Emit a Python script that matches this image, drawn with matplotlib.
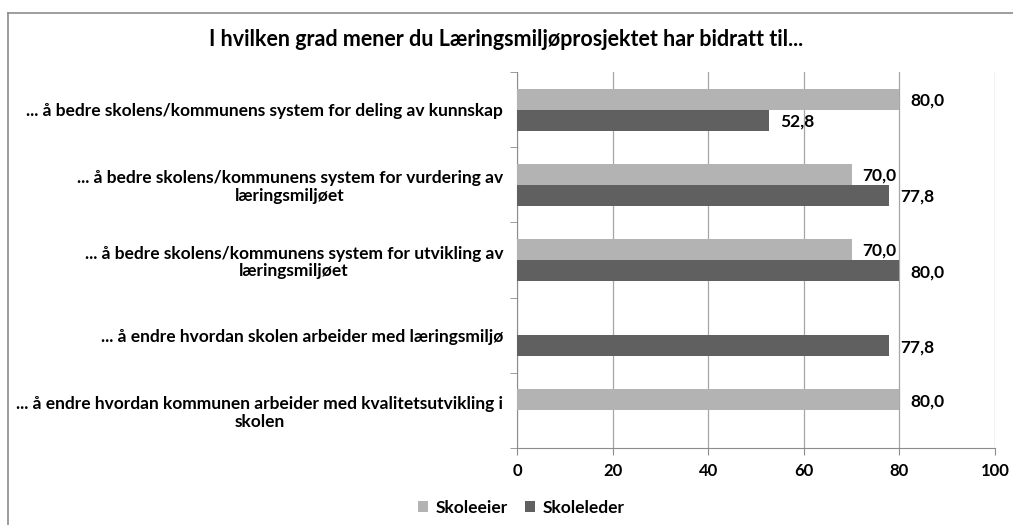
import matplotlib
matplotlib.use('Agg')
from matplotlib import pyplot as plt
from matplotlib.lines import Line2D
import numpy as np

categories = [
    '... å bedre skolens/kommunens system for deling av kunnskap',
    '... å bedre skolens/kommunens system for vurdering av\nlæringsmiljøet',
    '... å bedre skolens/kommunens system for utvikling av\nlæringsmiljøet',
    '... å endre hvordan skolen arbeider med læringsmiljø',
    '... å endre hvordan kommunen arbeider med kvalitetsutvikling i\nskolen',
]
skoleeier = [80.0, 70.0, 70.0, np.nan, 80.0]
skoleleder = [52.8, 77.8, 80.0, 77.8, np.nan]
series_names = ['Skoleeier', 'Skoleleder']
colors = ['#b3b3b3', '#606060']
x_ticks = [0, 20, 40, 60, 80, 100]

plt.rcParams['font.family'] = ['Lato', 'DejaVu Sans']
plt.rcParams['font.weight'] = 'bold'

fig = plt.figure(figsize=(10.13, 5.25), dpi=100)
ax = fig.add_axes([517 / 1013, 1 - 448 / 525, 478 / 1013, 376 / 525])

# outer frame (only left and top edges visible in the crop)
fig.add_artist(Line2D([8 / 1013, 8 / 1013], [0, 1 - 13 / 525], color='#8c8c8c', lw=1.2))
fig.add_artist(Line2D([8 / 1013, 1], [1 - 13 / 525, 1 - 13 / 525], color='#8c8c8c', lw=1.2))

y = np.arange(len(categories))
h = 0.28
ax.barh(y - h / 2, skoleeier, height=h, color=colors[0], label=series_names[0], zorder=3)
ax.barh(y + h / 2, skoleleder, height=h, color=colors[1], label=series_names[1], zorder=3)

for vals, off in ((skoleeier, -h / 2), (skoleleder, h / 2)):
    for i, v in enumerate(vals):
        if np.isnan(v):
            continue
        ax.text(v + 2.3, i + off + 0.02, f'{v:.1f}'.replace('.', ','),
                va='center', ha='left', fontsize=12.5, fontweight='bold')

ax.set_xlim(0, 100)
ax.set_ylim(len(categories) - 0.5, -0.5)
ax.set_xticks(x_ticks)
ax.set_yticks(y)
ax.set_yticklabels(categories, fontsize=12.5, fontweight='bold')
for lbl in ax.get_yticklabels():
    lbl.set_multialignment('center')
    lbl.set_linespacing(1.15)
ax.set_yticks(np.arange(-0.5, len(categories)), minor=True)
ax.tick_params(axis='y', which='major', length=0, pad=10)
ax.tick_params(axis='y', which='minor', length=5, color='#8c8c8c', direction='out')
ax.tick_params(axis='x', length=5, color='#8c8c8c', labelsize=12, pad=6)

ax.grid(axis='x', color='#a6a6a6', lw=0.9, zorder=0)
for s in ('top', 'right'):
    ax.spines[s].set_visible(False)
for s in ('left', 'bottom'):
    ax.spines[s].set_color('#8c8c8c')

fig.text(0.5, 1 - 40 / 525, 'I hvilken grad mener du Læringsmiljøprosjektet har bidratt til...',
         ha='center', va='center', fontsize=15.5, fontweight='bold')

fig.legend(loc='center', bbox_to_anchor=(521 / 1013, 1 - 508 / 525), ncol=2, frameon=False,
           fontsize=12.5, handlelength=0.6, handleheight=0.6, handletextpad=0.4,
           columnspacing=1.0)

fig.savefig('out.png', dpi=100)
